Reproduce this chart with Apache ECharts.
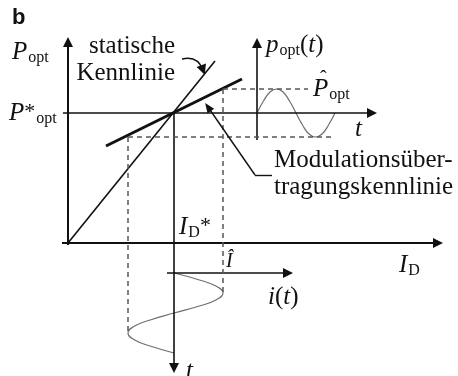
<!DOCTYPE html>
<html>
<head>
<meta charset="utf-8">
<script src="https://cdn.jsdelivr.net/npm/echarts@6/dist/echarts.min.js"></script>
<style>
  html, body { margin: 0; padding: 0; background: #fff; }
  #chart { width: 458px; height: 376px; }
</style>
</head>
<body>
<div id="chart"></div>
<script>
// Laser diode: static characteristic vs. small-signal modulation transfer line.
// Diagram units: x = diode current I_D, y = optical power P_opt (origin at the axes' crossing).

const operatingCurrent = 106;          // I_D*
const operatingPower = 130;            // P*_opt
const staticCurve = [[0, 0], [147, 182]];
const transferCurve = [[38, 97], [174, 164]];
const currentSwing = [60, 155];        // I_D at the two extremes of i(t)
const powerSwing = [106, 154];         // P_opt at the two extremes of p_opt(t)

// p_opt(t): time runs right along the P*_opt line, starting at the small power axis
const powerAxisX = 189;
const powerWaveT = [189, 195.5, 202, 208.5, 215, 221.5, 228, 234.5, 241, 247.5, 254, 260.5, 267];
const powerWaveP = [130, 142, 151, 154, 151, 142, 130, 118, 109, 106, 109, 118, 130];

// i(t): time runs down along the I_D* line, starting at the small current axis
const currentAxisY = -30;
const currentWaveT = [-30, -36.7, -43.3, -50, -56.7, -63.3, -70, -76.7, -83.3, -90, -96.7, -103.3, -110];
const currentWaveI = [106, 130.5, 148.4, 155, 148.4, 130.5, 106, 83, 66.2, 60, 66.2, 83, 106];

const SERIF = '"Liberation Serif", "Times New Roman", serif';
const INK = '#111';

const chart = echarts.init(document.getElementById('chart'), null, { renderer: 'canvas' });

function seg(a, b) { return [{ coord: a }, { coord: b }]; }

function markSeries(lines, style, arrowSize) {
  return {
    type: 'line', data: [], silent: true,
    markLine: {
      silent: true, animation: false,
      symbol: arrowSize ? ['none', 'triangle'] : ['none', 'none'],
      symbolSize: arrowSize || 0,
      label: { show: false },
      emphasis: { disabled: true },
      lineStyle: style,
      data: lines
    }
  };
}

function curve(points, style, smooth) {
  return {
    type: 'line', data: points, smooth: smooth, showSymbol: false, silent: true,
    lineStyle: style, emphasis: { disabled: true }
  };
}

const zip = (a, b) => a.map((v, k) => [v, b[k]]);

const axisStyle = { color: INK, width: 2, type: 'solid' };
const thinStyle = { color: INK, width: 1.6, type: 'solid' };
const dashStyle = { color: '#555', width: 1.5, type: [5, 4] };
const waveStyle = { color: '#6e6e6e', width: 1.2 };

// lowest / rightmost points of i(t), where the dashed projections end
const troughT = currentWaveT[currentWaveI.indexOf(currentSwing[0])];
const peakT = currentWaveT[currentWaveI.indexOf(currentSwing[1])];

const series = [
  // main axes I_D and P_opt
  markSeries([
    seg([0, -2], [0, 201]),
    seg([-6, 0], [370, 0])
  ], axisStyle, [10, 10]),
  // P*_opt line (also the time axis of p_opt(t)), I_D* line (time axis of i(t)), small axes
  markSeries([
    seg([-5, operatingPower], [304, operatingPower]),
    seg([operatingCurrent, operatingPower], [operatingCurrent, -125]),
    seg([powerAxisX, 103], [powerAxisX, 200]),
    seg([99, currentAxisY], [220, currentAxisY])
  ], thinStyle, [10, 10]),
  // projections of the swing
  markSeries([
    seg([currentSwing[1], powerSwing[1]], [240, powerSwing[1]]),
    seg([currentSwing[0], powerSwing[0]], [265, powerSwing[0]]),
    seg([currentSwing[0], powerSwing[0]], [currentSwing[0], troughT]),
    seg([currentSwing[1], powerSwing[1]], [currentSwing[1], peakT])
  ], dashStyle, 0),
  // pointer to the transfer line
  markSeries([
    seg([204, 68], [187, 68])
  ], { color: INK, width: 1.4, type: 'solid' }, 0),
  markSeries([
    seg([187, 68], [140, 136])
  ], { color: INK, width: 1.4, type: 'solid' }, [8, 10]),
  // characteristic lines
  curve(staticCurve, { color: INK, width: 1.6 }, false),
  curve(transferCurve, { color: INK, width: 3 }, false),
  // modulation waveforms
  curve(zip(powerWaveT, powerWaveP), waveStyle, true),
  curve(zip(currentWaveI, currentWaveT), waveStyle, true),
  // curved pointer to the static characteristic
  {
    type: 'lines', coordinateSystem: 'cartesian2d', silent: true, animation: false,
    symbol: ['none', 'triangle'], symbolSize: [8, 10],
    lineStyle: { color: INK, width: 1.4, curveness: 0.45, opacity: 1 },
    data: [{ coords: [[114, 184], [135, 173]] }]
  }
];

const rich = {
  i: { fontFamily: SERIF, fontStyle: 'italic', fontSize: 25, fill: INK },
  r: { fontFamily: SERIF, fontSize: 25, fill: INK },
  s: { fontFamily: SERIF, fontSize: 16, padding: [12, 0, 0, 1], fill: INK },
  st: { fontFamily: SERIF, fontSize: 22, padding: [0, 0, 2, 0], fill: INK }
};

function label(x, y, text, extra) {
  return {
    type: 'text', x: x, y: y, silent: true,
    style: Object.assign({
      text: text, rich: rich, fill: INK,
      font: '25px ' + SERIF, align: 'left', verticalAlign: 'middle'
    }, extra || {})
  };
}

const graphics = [
  label(12, 18, 'b', { font: 'bold 22px "Liberation Sans", Arial, sans-serif' }),
  label(12, 52, '{i|P}{s|opt}'),
  label(9, 113, '{i|P}{st|*}{s|opt}'),
  label(175, 60, 'statische\nKennlinie', { align: 'right', lineHeight: 27 }),
  label(274, 174, 'Modulationsüber-\ntragungskennlinie', { lineHeight: 27 }),
  label(266, 45, '{i|p}{s|opt}{r|(}{i|t}{r|)}'),
  label(313, 89, '{i|P}{s|opt}'),
  label(320, 80, 'ˆ', { font: '20px ' + SERIF }),
  label(355, 129, '{i|t}'),
  label(179, 227, '{i|I}{s|D}{st|*}'),
  label(399, 265, '{i|I}{s|D}'),
  label(226, 262, '{i|Î}', { rich: Object.assign({}, rich, { i: Object.assign({}, rich.i, { fontSize: 20 }) }) }),
  label(268, 297, '{i|i}{r|(}{i|t}{r|)}'),
  label(186, 371, '{i|t}')
];

chart.setOption({
  animation: false,
  backgroundColor: '#fff',
  grid: { left: 0, right: 0, top: 0, bottom: 0 },
  xAxis: { type: 'value', min: -68, max: 390, show: false },
  yAxis: { type: 'value', min: -133, max: 243, show: false },
  series: series,
  graphic: graphics
});
</script>
</body>
</html>
